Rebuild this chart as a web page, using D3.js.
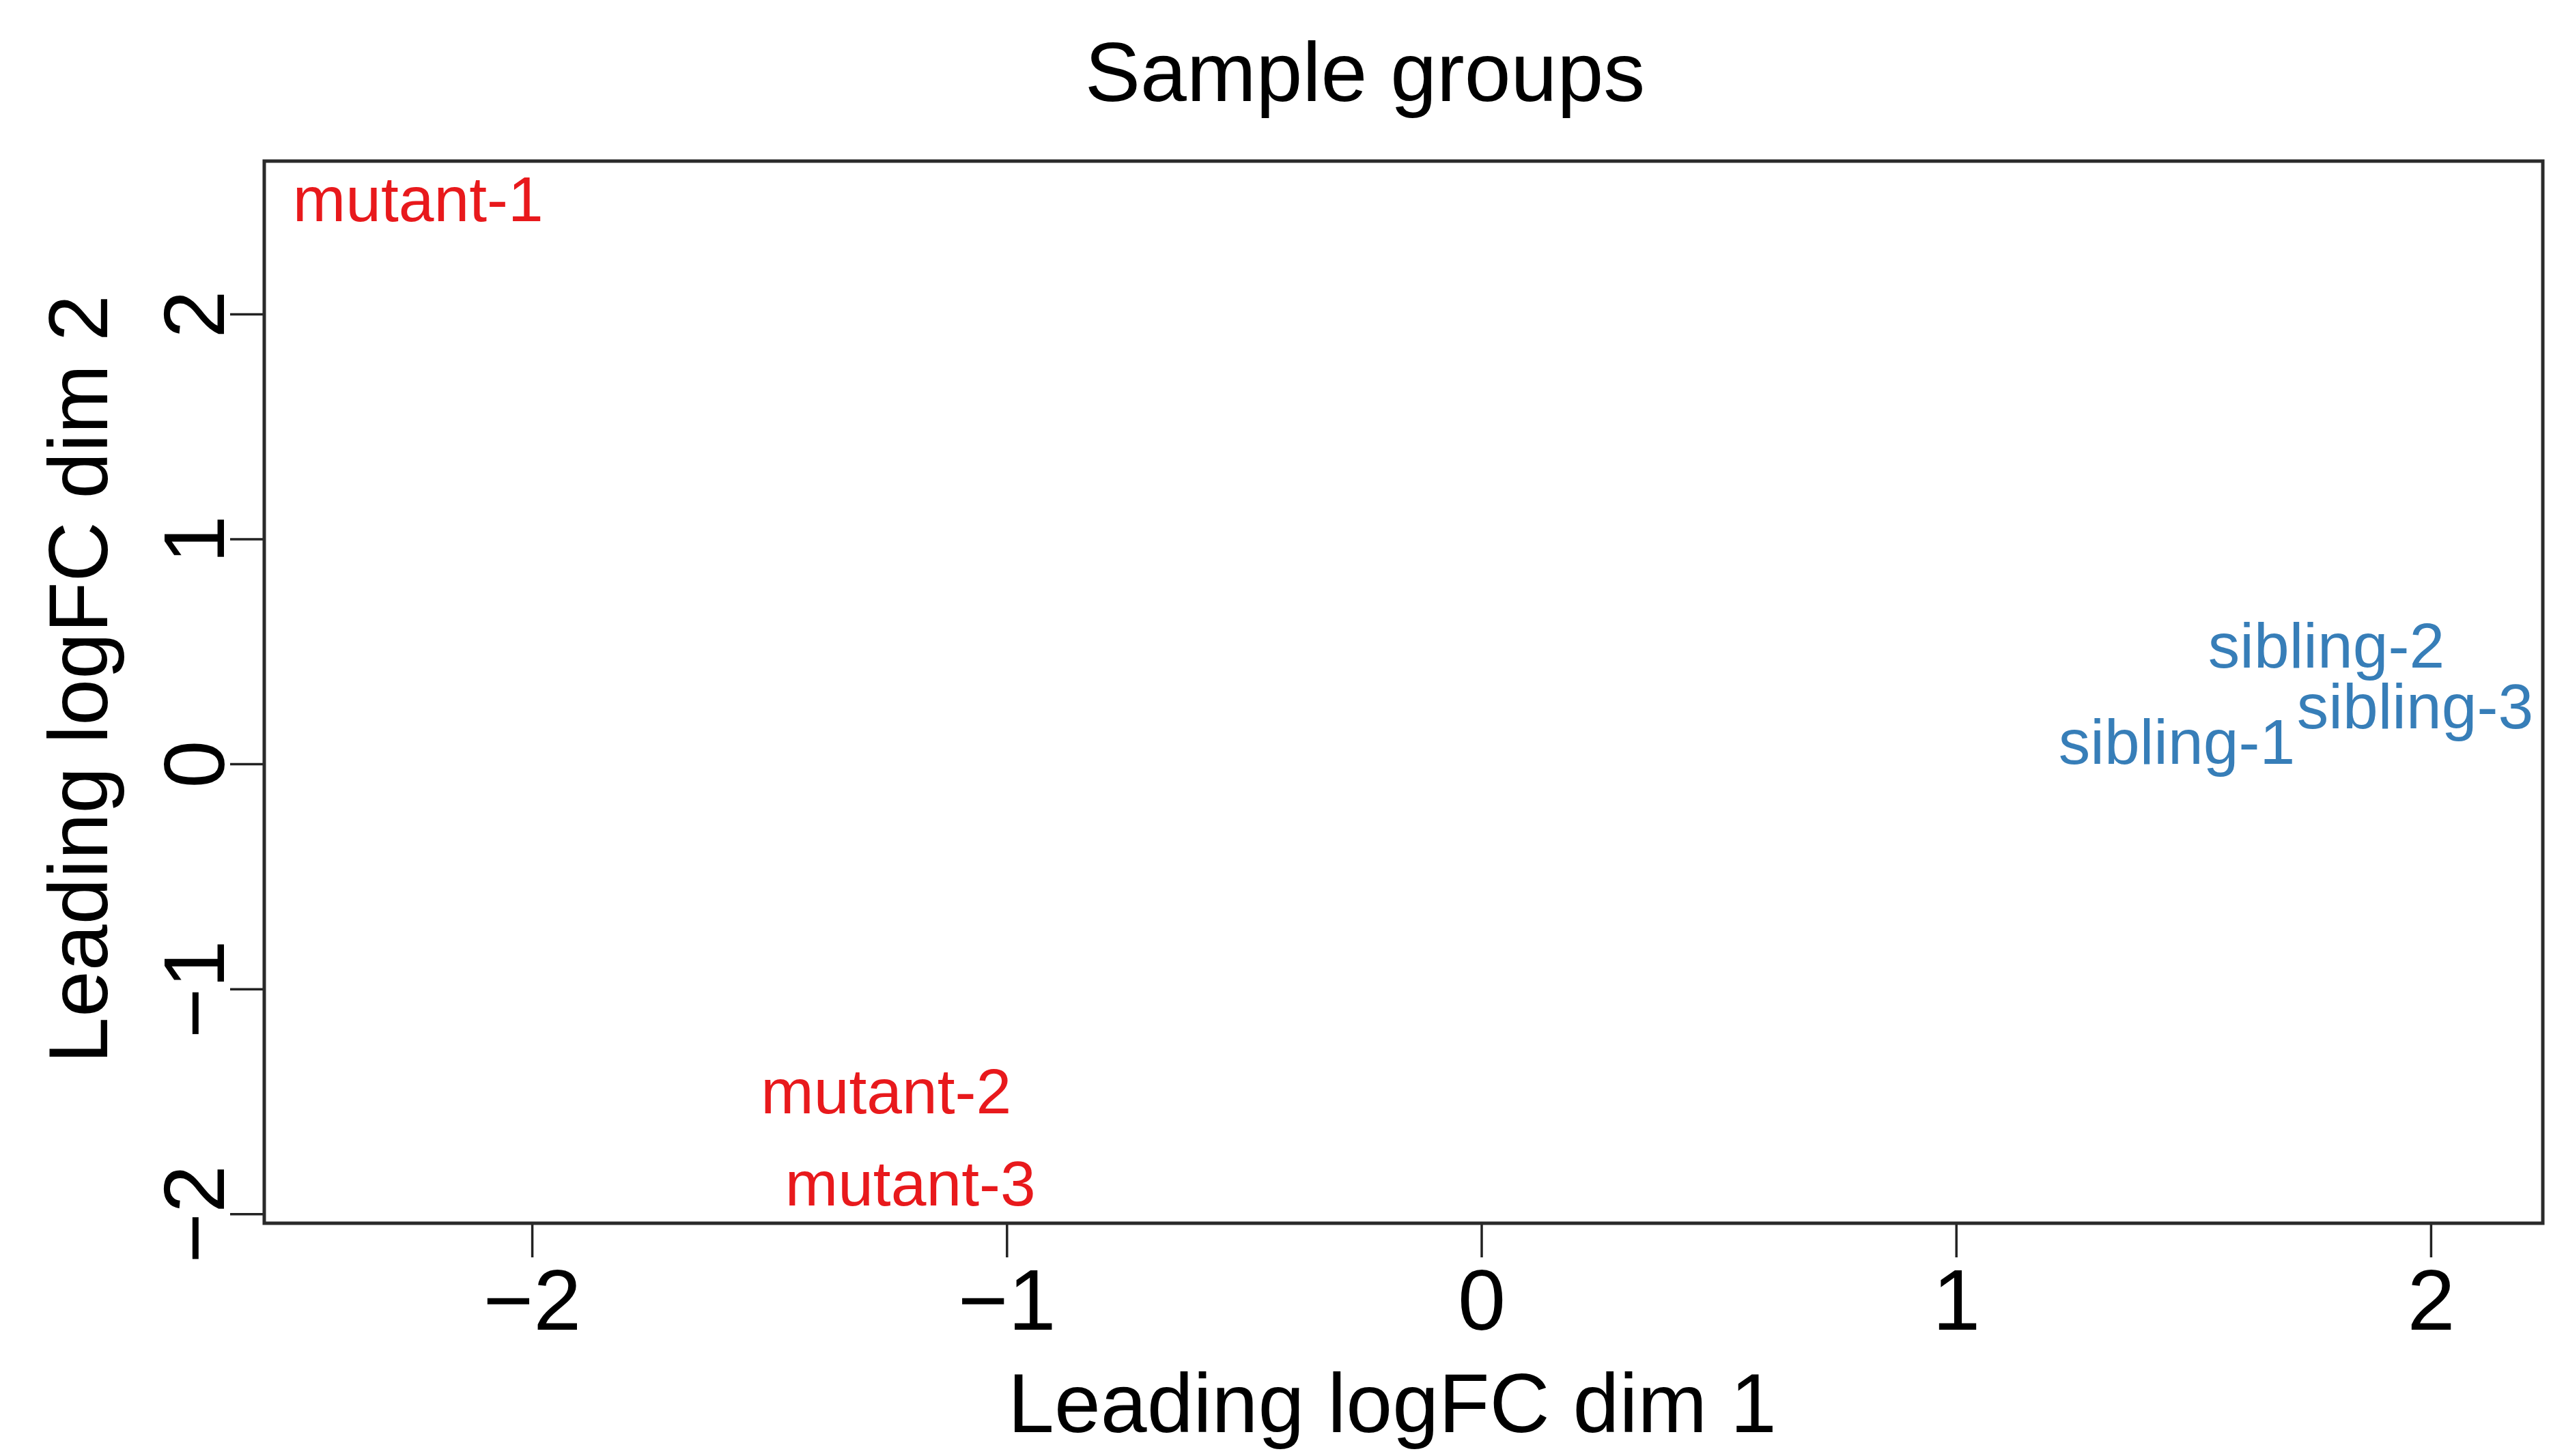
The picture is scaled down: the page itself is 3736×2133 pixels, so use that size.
<!DOCTYPE html>
<html>
<head>
<meta charset="utf-8">
<script src="https://cdn.jsdelivr.net/npm/d3@7"></script>
<style>
  html, body { margin: 0; padding: 0; background: #fff; }
  svg text { font-family: "Liberation Sans", Arial, sans-serif; }
</style>
</head>
<body>
<svg id="chart" width="3736" height="2133"></svg>
<script>
// ---- Data ----
const sampleNames = ["mutant-1", "mutant-2", "mutant-3", "sibling-1", "sibling-2", "sibling-3"];
const dim1Values  = [-2.24, -1.254, -1.203, 1.465, 1.780, 1.967];
const dim2Values  = [2.516, -1.451, -1.860, 0.103, 0.531, 0.261];
const sampleGroup = ["mutant", "mutant", "mutant", "sibling", "sibling", "sibling"];
const groupNames  = ["mutant", "sibling"];
const groupColors = ["#E8191C", "#377EB8"];
const xTickValues = [-2, -1, 0, 1, 2];
const yTickValues = [-2, -1, 0, 1, 2];
const xDomain = [-2.564, 2.236];
const yDomain = [-2.042, 2.68];
const titleText = "Sample groups";
const xTitle = "Leading logFC dim 1";
const yTitle = "Leading logFC dim 2";

// ---- Layout ----
const svg = d3.select("#chart");
const plot = { left: 387, right: 3724, top: 236, bottom: 1792 };

const x = d3.scaleLinear().domain(xDomain).range([plot.left, plot.right]);
const y = d3.scaleLinear().domain(yDomain).range([plot.bottom, plot.top]);
const color = d3.scaleOrdinal().domain(groupNames).range(groupColors);

// Axes
const xAxis = d3.axisBottom(x).tickValues(xTickValues).tickSize(50).tickSizeOuter(0)
  .tickFormat(d3.format("d"));
const gx = svg.append("g").attr("transform", `translate(0,${plot.bottom})`).call(xAxis);
gx.select(".domain").remove();
gx.selectAll(".tick line").attr("stroke", "#222").attr("stroke-width", 3.5);
gx.selectAll(".tick text")
  .attr("y", 156).attr("dy", 0)
  .attr("fill", "#000")
  .style("font-size", "126px");

const yAxis = d3.axisLeft(y).tickValues(yTickValues).tickSize(50).tickSizeOuter(0)
  .tickFormat(d3.format("d"));
const gy = svg.append("g").attr("transform", `translate(${plot.left},0)`).call(yAxis);
gy.select(".domain").remove();
gy.selectAll(".tick line").attr("stroke", "#222").attr("stroke-width", 3.5);
gy.selectAll(".tick text")
  .attr("x", null).attr("dy", 0)
  .attr("transform", "translate(-59,0) rotate(-90)")
  .attr("text-anchor", "middle")
  .attr("fill", "#000")
  .style("font-size", "126px");

// Plot frame
svg.append("rect")
  .attr("x", plot.left).attr("y", plot.top)
  .attr("width", plot.right - plot.left).attr("height", plot.bottom - plot.top)
  .attr("fill", "none").attr("stroke", "#2a2a2a").attr("stroke-width", 5);

// Sample labels
svg.append("g").selectAll("text")
  .data(sampleNames.map((n, i) => ({ name: n, d1: dim1Values[i], d2: dim2Values[i], g: sampleGroup[i] })))
  .join("text")
  .attr("x", d => x(d.d1))
  .attr("y", d => y(d.d2))
  .attr("dy", "0.36em")
  .attr("text-anchor", "middle")
  .attr("fill", d => color(d.g))
  .style("font-size", "93px")
  .text(d => d.name);

// Titles
svg.append("text")
  .attr("x", 1999).attr("y", 148)
  .attr("text-anchor", "middle")
  .style("font-size", "122px")
  .attr("fill", "#000")
  .text(titleText);

svg.append("text")
  .attr("x", 2039).attr("y", 2098)
  .attr("text-anchor", "middle")
  .style("font-size", "122px")
  .attr("fill", "#000")
  .text(xTitle);

svg.append("text")
  .attr("transform", "translate(157,995) rotate(-90)")
  .attr("text-anchor", "middle")
  .style("font-size", "122px")
  .attr("fill", "#000")
  .text(yTitle);
</script>
</body>
</html>
